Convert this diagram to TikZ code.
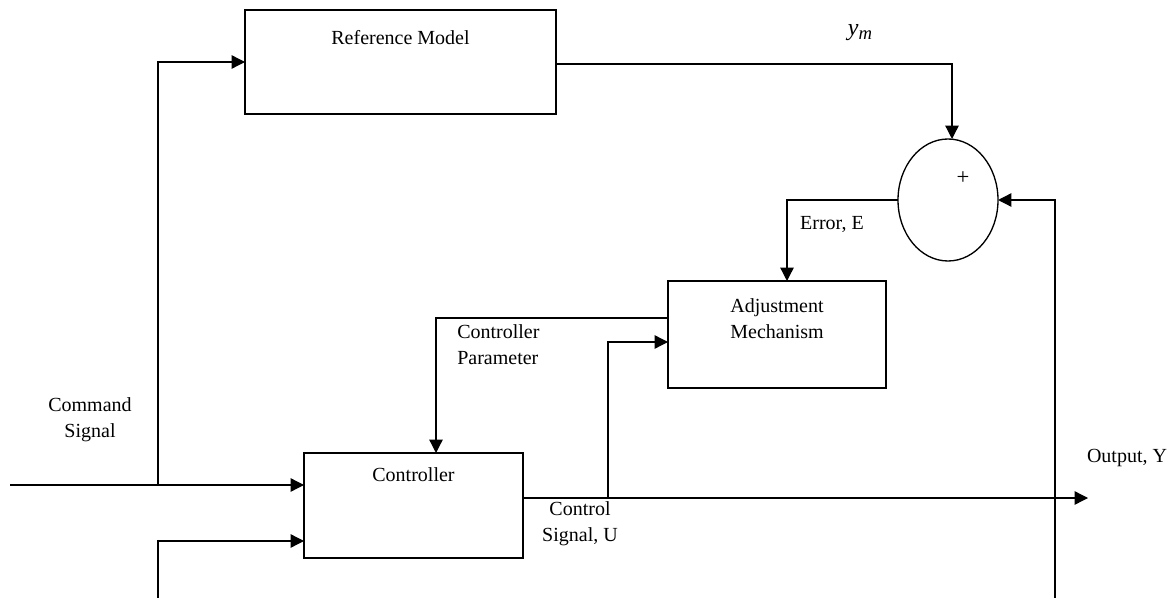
\documentclass[tikz,border=0pt]{standalone}
\usepackage{fontspec}
\setmainfont{Liberation Serif}
\usetikzlibrary{shapes.geometric,arrows.meta}
\tikzset{block/.style={draw, line width=1pt, inner sep=0pt, outer sep=0pt},
	arr/.style={-{Triangle[length=10pt,width=10pt]}},
	wire/.style={line width=1pt},
	txt/.style={align=center, font=\fontsize{15}{19.5}\selectfont, inner sep=0pt}}
\begin{document}
\begin{tikzpicture}[x=0.75pt,y=-0.75pt]
	\useasboundingbox (0,0) rectangle (1170,598);
	\node[block, minimum width=233.25pt, minimum height=78pt,
		label={[txt, anchor=center, yshift=-21pt]north:Reference Model}] (refmodel) at (400.5,62) {};
	\node[block, ellipse, minimum width=75pt, minimum height=91.5pt,
		label={[txt, anchor=center, font=\fontsize{17}{17}\selectfont, xshift=11.25pt, yshift=16.5pt]center:+}] (sum) at (948,200) {};
	\node[block, minimum width=163.5pt, minimum height=80.25pt,
		label={[txt, anchor=center, yshift=-28.5pt]north:Adjustment\\Mechanism}] (adjust) at (777,334.5) {};
	\node[block, minimum width=164.25pt, minimum height=78.75pt,
		label={[txt, anchor=center, yshift=-16.5pt]north:Controller}] (controller) at (413.5,505.5) {};
	\coordinate (cmd) at (10,485);
	\coordinate (split) at (158,485);
	\coordinate (fbin) at (158,598);
	\coordinate (output) at (1088,498);
	\coordinate (usplit) at (608,498);
	\coordinate (fbout) at (1055,598);
	% signal paths
	\draw[wire, arr] (cmd) -- (cmd -| controller.west);
	\draw[wire, arr] (split) |- (refmodel.west);
	\draw[wire, arr] (fbin) |- (controller.west |- 0,541);
	\draw[wire, arr] (controller.east |- output) -- (output);
	\draw[wire, arr] (usplit) |- (adjust.west |- 0,342);
	\draw[wire, arr] (adjust.west |- 0,318) -| (436,453);
	\draw[wire, arr] (refmodel.east |- 0,64) -| ([xshift=3pt]sum.north);
	\draw[wire, arr] (fbout) |- (sum.east);
	\draw[wire, arr] (sum.west) -| (787,281);
	% labels
	\node[txt, font=\fontsize{18}{18}\selectfont\itshape] (ym) at (860,33) {y\raisebox{-0.3ex}{\fontsize{14}{14}\selectfont m}};
	\node[txt] (err) at (832,224) {Error, E};
	\node[txt, align=left, anchor=west] (param) at (457,345) {Controller\\Parameter};
	\node[txt] (command) at (90,420) {Command\\Signal};
	\node[txt] (usig) at (580,524) {Control\\Signal, U};
	\node[txt] (out) at (1127,458) {Output, Y};
\end{tikzpicture}
\end{document}
